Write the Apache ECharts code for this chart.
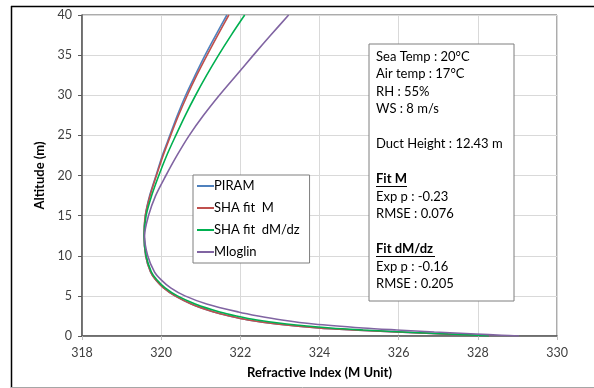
<!DOCTYPE html>
<html>
<head>
<meta charset="utf-8">
<script src="https://cdn.jsdelivr.net/npm/echarts@6/dist/echarts.min.js"></script>
<style>
html,body{margin:0;padding:0;background:#fff;}
#c{width:594px;height:388px;}
</style>
</head>
<body>
<div id="c"></div>
<script>
// Altitude levels (m)
var altitude = [0, 0.1, 0.25, 0.5, 0.75, 1, 1.5, 2, 2.5, 3, 4, 5, 6, 7, 8, 10, 12.5, 15, 17.5, 20, 22.5, 25, 27.5, 30, 32.5, 35, 37.5, 40];
// Refractive index (M units) per series at those altitudes
var piram   = [328.3, 327.9, 327.15, 325.95, 324.85, 323.98, 322.92, 322.2, 321.72, 321.33, 320.76, 320.35, 320.06, 319.86, 319.73, 319.61, 319.57, 319.6, 319.71, 319.87, 320.03, 320.22, 320.41, 320.62, 320.86, 321.11, 321.38, 321.66];
var shaM    = [328.3, 327.9, 327.15, 325.95, 324.85, 323.98, 322.92, 322.2, 321.72, 321.33, 320.76, 320.35, 320.06, 319.86, 319.73, 319.61, 319.57, 319.6, 319.72, 319.88, 320.05, 320.24, 320.44, 320.66, 320.9, 321.16, 321.43, 321.71];
var shaDMdz = [328.28, 327.95, 327.25, 326.1, 325.1, 324.28, 323.17, 322.42, 321.9, 321.48, 320.86, 320.41, 320.1, 319.89, 319.75, 319.62, 319.57, 319.62, 319.76, 319.94, 320.14, 320.37, 320.61, 320.87, 321.15, 321.45, 321.77, 322.11];
var mloglin = [329.04, 328.6, 327.95, 326.9, 325.95, 325.1, 323.85, 323.05, 322.45, 321.95, 321.15, 320.6, 320.24, 320.0, 319.83, 319.66, 319.58, 319.68, 319.86, 320.12, 320.4, 320.71, 321.07, 321.47, 321.9, 322.33, 322.77, 323.22];

var seriesNames = ['PIRAM', 'SHA fit  M', 'SHA fit  dM/dz', 'Mloglin'];
var seriesColors = ['#4f81bd', '#c0504d', '#00b050', '#8064a2'];
var seriesValues = [piram, shaM, shaDMdz, mloglin];

var xTicks = {min: 318, max: 330, interval: 2};
var yTicks = {min: 0, max: 40, interval: 5};

var infoLines = ['Sea Temp : 20°C', 'Air temp : 17°C', 'RH : 55%', 'WS : 8 m/s', '', 'Duct Height : 12.43 m', '', 'Fit M', 'Exp p : -0.23', 'RMSE : 0.076', '', 'Fit dM/dz', 'Exp p : -0.16', 'RMSE : 0.205'];
var boldLines = ['Fit M', 'Fit dM/dz'];

var FONT = 'Lato, "Open Sans", sans-serif';

var chart = echarts.init(document.getElementById('c'), null, {renderer: 'canvas'});

var series = seriesNames.map(function (n, k) {
  return {
    name: n,
    type: 'line',
    smooth: 0.3,
    symbol: 'none',
    lineStyle: {color: seriesColors[k], width: 1.6},
    itemStyle: {color: seriesColors[k]},
    data: altitude.map(function (z, i) { return [seriesValues[k][i], z]; }),
    z: 2 + k
  };
});

// info box graphic
var BOX_X = 369, BOX_Y = 44, LINE_H = 17.5;
var graphics = [{
  type: 'rect', z: 100, shape: {x: BOX_X, y: BOX_Y, width: 145, height: 257},
  style: {fill: '#fff', stroke: '#7f7f7f', lineWidth: 1}
}];
infoLines.forEach(function (t, i) {
  if (!t) return;
  var bold = boldLines.indexOf(t) >= 0;
  var ty = BOX_Y + 6 + i * LINE_H;
  graphics.push({
    type: 'text', z: 101, x: BOX_X + 7, y: ty,
    style: {text: t, fill: '#000', font: (bold ? 'bold ' : '') + '13px ' + FONT, verticalAlign: 'top', align: 'left'}
  });
  if (bold) {
    graphics.push({
      type: 'line', z: 101,
      shape: {x1: BOX_X + 7, y1: ty + 14, x2: BOX_X + 7 + (t === 'Fit M' ? 31 : 59), y2: ty + 14},
      style: {stroke: '#000', lineWidth: 1}
    });
  }
});
graphics.push(
  {type: 'line', z: 100, shape: {x1: 11, y1: 6.5, x2: 594, y2: 6.5}, style: {stroke: '#000', lineWidth: 1.5}},
  {type: 'line', z: 100, shape: {x1: 11.5, y1: 6, x2: 11.5, y2: 388}, style: {stroke: '#000', lineWidth: 1.5}},
  {type: 'line', z: 100, shape: {x1: 11, y1: 387.5, x2: 594, y2: 387.5}, style: {stroke: '#a6a6a6', lineWidth: 1}}
);

chart.setOption({
  animation: false,
  backgroundColor: '#fff',
  textStyle: {fontFamily: FONT},
  grid: {left: 82, right: 37, top: 15, bottom: 52, show: true, borderColor: '#595959', borderWidth: 1, backgroundColor: 'transparent'},
  xAxis: {
    type: 'value', min: xTicks.min, max: xTicks.max, interval: xTicks.interval,
    name: 'Refractive Index (M Unit)', nameLocation: 'middle', nameGap: 30,
    nameTextStyle: {fontWeight: 'bold', fontSize: 13, color: '#000', fontFamily: FONT},
    axisLine: {show: true, lineStyle: {color: '#595959', width: 1.5}},
    axisTick: {show: true, length: 4, lineStyle: {color: '#bfbfbf'}},
    axisLabel: {fontSize: 12.5, color: '#404040', margin: 10, fontFamily: FONT},
    splitLine: {show: true, lineStyle: {color: '#d9d9d9', width: 1}}
  },
  yAxis: {
    type: 'value', min: yTicks.min, max: yTicks.max, interval: yTicks.interval,
    name: 'Altitude (m)', nameLocation: 'middle', nameGap: 21, nameRotate: 90,
    nameTextStyle: {fontWeight: 'bold', fontSize: 13, color: '#000', fontFamily: FONT},
    axisLine: {show: true, lineStyle: {color: '#595959', width: 1.5}},
    axisTick: {show: true, length: 4, lineStyle: {color: '#595959'}},
    axisLabel: {fontSize: 12.5, color: '#404040', margin: 10, fontFamily: FONT},
    splitLine: {show: true, lineStyle: {color: '#d9d9d9', width: 1}}
  },
  legend: {
    orient: 'vertical', left: 193, top: 175,
    data: seriesNames,
    icon: 'rect', itemWidth: 17, itemHeight: 2, itemGap: 8,
    padding: [4, 10, 4, 4],
    backgroundColor: '#fff', borderColor: '#7f7f7f', borderWidth: 1, borderRadius: 0,
    textStyle: {fontSize: 13, color: '#000', fontFamily: FONT, lineHeight: 14, padding: [0, 0, 0, -5]}
  },
  series: series,
  graphic: graphics
});
</script>
</body>
</html>
